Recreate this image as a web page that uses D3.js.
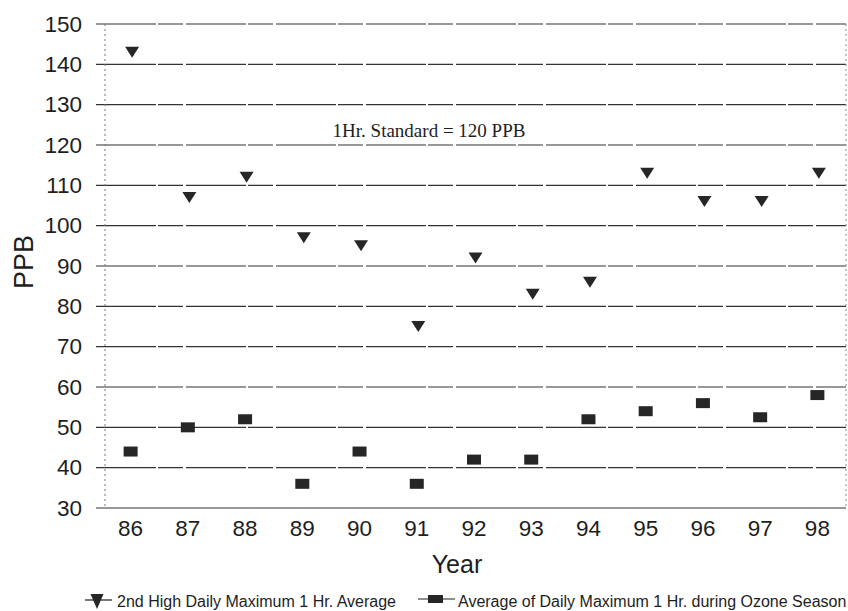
<!DOCTYPE html>
<html>
<head>
<meta charset="utf-8">
<script src="https://cdn.jsdelivr.net/npm/d3@7"></script>
<style>
  html, body { margin: 0; padding: 0; background: #fff; }
  svg { display: block; }
</style>
</head>
<body>
<script>
// Ozone readings by year (PPB)
const years = ["86","87","88","89","90","91","92","93","94","95","96","97","98"];
const secondHigh = [143, 107, 112, 97, 95, 75, 92, 83, 86, 113, 106, 106, 113];
const seasonAvg = [44, 50, 52, 36, 44, 36, 42, 42, 52, 54, 56, 52.5, 58];
const yTicks = [30, 40, 50, 60, 70, 80, 90, 100, 110, 120, 130, 140, 150];
const standardValue = 120;
const seriesNames = ["2nd High Daily Maximum 1 Hr. Average", "Average of Daily Maximum 1 Hr. during Ozone Season"];

const W = 848, H = 611;
const plotLeft = 105, plotRight = 846, plotTop = 24, plotBottom = 508;
const ink = "#1e1e1e";
const sans = "Liberation Sans, Arial, sans-serif";

const svg = d3.select("body").append("svg").attr("width", W).attr("height", H);

const x = d3.scaleBand().domain(years).range([102, plotRight]).paddingInner(0).paddingOuter(0);
const y = d3.scaleLinear().domain([30, 150]).range([plotBottom, plotTop]);

// horizontal gridlines
svg.append("g").selectAll("line").data(yTicks).join("line")
  .attr("x1", plotLeft - 9).attr("x2", plotRight)
  .attr("y1", d => y(d)).attr("y2", d => y(d))
  .attr("stroke", "#333").attr("stroke-width", 1.2)
  .attr("stroke-dasharray", d => d === 30 ? null : "60,2,25,3");

// plot-area side borders (faint dotted)
svg.append("line").attr("x1", plotLeft).attr("x2", plotLeft).attr("y1", plotTop).attr("y2", plotBottom)
  .attr("stroke", "#777").attr("stroke-width", 1).attr("stroke-dasharray", "2,3");
svg.append("line").attr("x1", plotRight).attr("x2", plotRight).attr("y1", plotTop).attr("y2", plotBottom)
  .attr("stroke", "#888").attr("stroke-width", 1).attr("stroke-dasharray", "2,3");

// y axis labels
const yAxis = d3.axisLeft(y).tickValues(yTicks).tickSize(0).tickPadding(23);
const gy = svg.append("g").attr("transform", `translate(${plotLeft},0)`).call(yAxis);
gy.select(".domain").remove();
gy.selectAll("text").attr("font-family", sans).attr("font-size", 22.5).attr("fill", ink);

// x axis labels
const xAxis = d3.axisBottom(x).tickSize(0).tickPadding(12);
const gx = svg.append("g").attr("transform", `translate(0,${plotBottom})`).call(xAxis);
gx.select(".domain").remove();
gx.selectAll("text").attr("font-family", sans).attr("font-size", 22.5).attr("fill", ink);

// axis titles
svg.append("text").attr("x", 457).attr("y", 573)
  .attr("text-anchor", "middle").attr("font-family", sans)
  .attr("font-size", 25).attr("fill", ink).text("Year");
svg.append("text").attr("transform", `translate(33,262) rotate(-90)`)
  .attr("text-anchor", "middle").attr("font-family", sans)
  .attr("font-size", 27).attr("fill", ink).text("PPB");

// standard annotation
svg.append("text").attr("x", 429).attr("y", y(standardValue) - 8)
  .attr("text-anchor", "middle").attr("font-family", "Liberation Serif, Times New Roman, serif")
  .attr("font-size", 19).attr("fill", ink).text("1Hr. Standard = 120 PPB");

const cx = d => x(d) + x.bandwidth() / 2;
const triPath = "M-7,-5.5 L7,-5.5 L0,5.5 Z";

// 2nd high markers
svg.append("g").selectAll("path").data(years).join("path")
  .attr("transform", (d, i) => `translate(${cx(d) + 1.5},${y(secondHigh[i])})`)
  .attr("d", triPath).attr("fill", "#262626");

// seasonal average markers
svg.append("g").selectAll("rect").data(years).join("rect")
  .attr("x", d => cx(d) - 7).attr("y", (d, i) => y(seasonAvg[i]) - 5)
  .attr("width", 14).attr("height", 10).attr("fill", "#262626");

// legend
const lg = svg.append("g").attr("font-family", sans).attr("font-size", 16).attr("fill", ink);
const ly = 607;
lg.append("line").attr("x1", 85).attr("x2", 112).attr("y1", ly - 7).attr("y2", ly - 7).attr("stroke", ink).attr("stroke-width", 1.2);
lg.append("path").attr("transform", `translate(97,${ly - 6})`).attr("d", "M-6.5,-7 L6.5,-7 L0,8 Z").attr("fill", "#262626");
lg.append("text").attr("x", 117).attr("y", ly).text(seriesNames[0]);
lg.append("line").attr("x1", 418).attr("x2", 455).attr("y1", ly - 8).attr("y2", ly - 8).attr("stroke", ink).attr("stroke-width", 1.2);
lg.append("rect").attr("x", 428).attr("y", ly - 12).attr("width", 15).attr("height", 8).attr("fill", "#262626");
lg.append("text").attr("x", 458).attr("y", ly).text(seriesNames[1]);
</script>
</body>
</html>
